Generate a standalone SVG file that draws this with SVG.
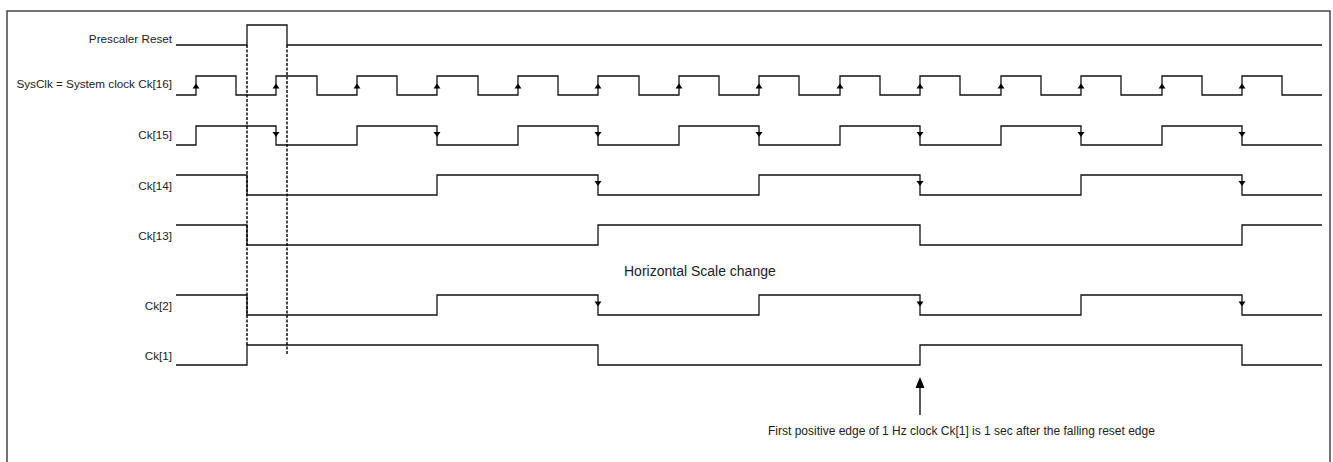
<svg xmlns="http://www.w3.org/2000/svg" xmlns:xlink="http://www.w3.org/1999/xlink" width="1333" height="462" viewBox="0 0 1333 462">
<style>
.w{fill:none;stroke:#111;stroke-width:1.3}
.lbl{font-family:"Liberation Sans",Arial,sans-serif;font-size:11.7px;fill:#222;text-anchor:end}
.txt{font-family:"Liberation Sans",Arial,sans-serif;font-size:12px;fill:#222}
.dash{fill:none;stroke:#000;stroke-width:1.4;stroke-dasharray:3 1.5}
.ar{fill:#000}
</style>
<defs>
<path id="up" class="ar" d="M0,0 L-3.5,5 L3.5,5 Z"/>
<path id="dn" class="ar" d="M-3.5,0 L3.5,0 L0,5 Z"/>
</defs>
<rect x="7" y="11" width="1323" height="470" fill="#fff" stroke="#444" stroke-width="1.5"/>

<g id="prescaler-reset">
<text class="lbl" x="172" y="43">Prescaler Reset</text>
<path class="w" d="M176,45 H247 V25 H287 V45 H1322"/>
</g>

<g id="sysclk">
<text class="lbl" x="172" y="88">SysClk = System clock Ck[16]</text>
<path class="w" d="M176,95 H196 V76 H236 V95 H276 V76 H317 V95 H357 V76 H397 V95 H437 V76 H478 V95 H518 V76 H558 V95 H598 V76 H639 V95 H679 V76 H719 V95 H759 V76 H799 V95 H840 V76 H880 V95 H920 V76 H960 V95 H1001 V76 H1041 V95 H1081 V76 H1121 V95 H1162 V76 H1202 V95 H1242 V76 H1282 V95 H1322"/>
<use xlink:href="#up" x="196" y="83.5"/><use xlink:href="#up" x="276" y="83.5"/><use xlink:href="#up" x="357" y="83.5"/><use xlink:href="#up" x="437" y="83.5"/><use xlink:href="#up" x="518" y="83.5"/><use xlink:href="#up" x="598" y="83.5"/><use xlink:href="#up" x="679" y="83.5"/><use xlink:href="#up" x="759" y="83.5"/><use xlink:href="#up" x="840" y="83.5"/><use xlink:href="#up" x="920" y="83.5"/><use xlink:href="#up" x="1001" y="83.5"/><use xlink:href="#up" x="1081" y="83.5"/><use xlink:href="#up" x="1162" y="83.5"/><use xlink:href="#up" x="1242" y="83.5"/>
</g>

<g id="ck15">
<text class="lbl" x="172" y="139">Ck[15]</text>
<path class="w" d="M176,145 H196 V126 H276 V145 H357 V126 H437 V145 H518 V126 H598 V145 H679 V126 H759 V145 H840 V126 H920 V145 H1001 V126 H1081 V145 H1162 V126 H1242 V145 H1322"/>
<use xlink:href="#dn" x="276" y="132"/><use xlink:href="#dn" x="437" y="132"/><use xlink:href="#dn" x="598" y="132"/><use xlink:href="#dn" x="759" y="132"/><use xlink:href="#dn" x="920" y="132"/><use xlink:href="#dn" x="1081" y="132"/><use xlink:href="#dn" x="1242" y="132"/>
</g>

<g id="ck14">
<text class="lbl" x="172" y="190">Ck[14]</text>
<path class="w" d="M176,175 H247 V195 H437 V175 H598 V195 H759 V175 H920 V195 H1081 V175 H1242 V195 H1322"/>
<use xlink:href="#dn" x="598" y="181"/><use xlink:href="#dn" x="920" y="181"/><use xlink:href="#dn" x="1242" y="181"/>
</g>

<g id="ck13">
<text class="lbl" x="172" y="240">Ck[13]</text>
<path class="w" d="M176,225 H247 V245 H598 V225 H920 V245 H1242 V225 H1322"/>
</g>

<g id="scale-note">
<text class="txt" x="624" y="276" style="font-size:14px">Horizontal Scale change</text>
</g>

<g id="ck2">
<text class="lbl" x="172" y="310">Ck[2]</text>
<path class="w" d="M176,295 H247 V315 H437 V295 H598 V315 H759 V295 H920 V315 H1081 V295 H1242 V315 H1322"/>
<use xlink:href="#dn" x="598" y="301.5"/><use xlink:href="#dn" x="920" y="301.5"/><use xlink:href="#dn" x="1242" y="301.5"/>
</g>

<g id="ck1">
<text class="lbl" x="172" y="360">Ck[1]</text>
<path class="w" d="M176,365 H247 V345 H598 V365 H920 V345 H1242 V365 H1322"/>
</g>

<g id="edge-note">
<text class="txt" x="768" y="435">First positive edge of 1 Hz clock Ck[1] is 1 sec after the falling reset edge</text>
</g>

<g id="connectors">
<path class="dash" d="M247,45 V345"/>
<path class="dash" d="M287,45 V355"/>
<path d="M920,415 V386" fill="none" stroke="#000" stroke-width="1.3"/>
<path class="ar" d="M920,377 L915.5,388 L924.5,388 Z"/>
</g>
</svg>
